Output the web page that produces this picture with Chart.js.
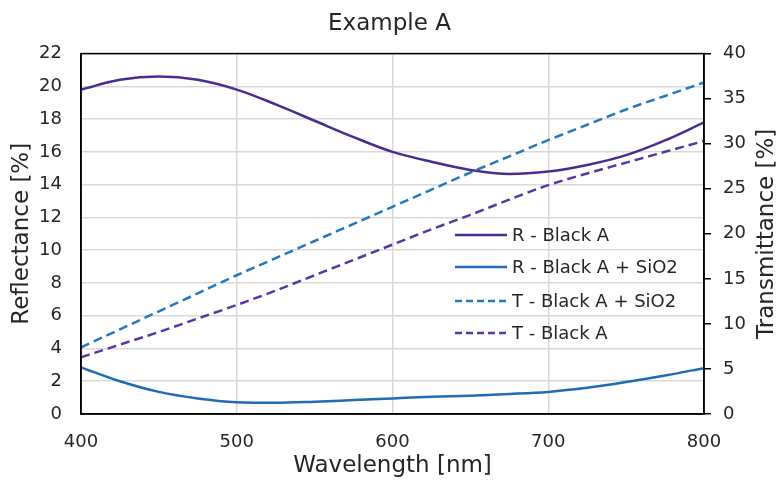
<!DOCTYPE html>
<html>
<head>
<meta charset="utf-8">
<title>Example A</title>
<script src="https://cdn.jsdelivr.net/npm/chart.js@4.4.1/dist/chart.umd.min.js"></script>
<style>
  html, body { margin: 0; padding: 0; background: #fff; }
</style>
</head>
<body>
<canvas id="myChart" width="779" height="486"></canvas>
<script>
// --- Daten ---
const wavelength = [400, 425, 450, 475, 500, 525, 550, 575, 600, 625, 650, 675, 700, 725, 750, 775, 800];

// Reflexion, linke Achse [%]
const rBlackA      = [19.8, 20.4, 20.6, 20.4, 19.8, 18.9, 17.9, 16.9, 16.0, 15.4, 14.9, 14.65, 14.8, 15.2, 15.8, 16.7, 17.8];
const rBlackASiO2  = [2.85, 2.0, 1.35, 0.95, 0.72, 0.68, 0.75, 0.85, 0.95, 1.05, 1.12, 1.22, 1.35, 1.6, 1.95, 2.35, 2.8];

// Transmission, rechte Achse [%]
const tBlackASiO2  = [7.4, 9.4, 11.4, 13.4, 15.4, 17.3, 19.2, 21.1, 23.0, 24.9, 26.8, 28.6, 30.4, 32.1, 33.8, 35.3, 36.8];
const tBlackA      = [6.3, 7.7, 9.1, 10.6, 12.1, 13.7, 15.4, 17.1, 18.8, 20.5, 22.1, 23.8, 25.4, 26.7, 27.9, 29.1, 30.3];

// Achsenbeschriftungen
const xTicks     = [400, 500, 600, 700, 800];
const leftTicks  = [0, 2, 4, 6, 8, 10, 12, 14, 16, 18, 20, 22];
const rightTicks = [0, 5, 10, 15, 20, 25, 30, 35, 40];

const FONT = '"DejaVu Sans", Verdana, sans-serif';
const TXT = '#262626';

function pts(ys) {
    return wavelength.map((x, i) => ({ x: x, y: ys[i] }));
}

function setTicks(list) {
    return function(scale) {
        scale.ticks = list.map(v => ({ value: v }));
    };
}

// Rahmen um die Plotfläche
const framePlugin = {
    id: 'frame',
    afterDatasetsDraw(chart) {
        const a = chart.chartArea;
        const ctx = chart.ctx;
        ctx.save();
        ctx.strokeStyle = '#000';
        ctx.lineWidth = 1.5;
        ctx.strokeRect(a.left, a.top, a.right - a.left, a.bottom - a.top);
        ctx.restore();
    }
};

// rechte Achsenbeschriftung, von unten nach oben gelesen (wie links)
const rightTitlePlugin = {
    id: 'rightTitle',
    afterDraw(chart) {
        const a = chart.chartArea;
        const ctx = chart.ctx;
        ctx.save();
        ctx.translate(767, (a.top + a.bottom) / 2);
        ctx.rotate(-Math.PI / 2);
        ctx.font = '23px ' + FONT;
        ctx.fillStyle = TXT;
        ctx.textAlign = 'center';
        ctx.textBaseline = 'middle';
        ctx.fillText('Transmittance [%]', 0, 0);
        ctx.restore();
    }
};

// Legende innerhalb der Plotfläche
const legendPlugin = {
    id: 'innerLegend',
    afterDraw(chart) {
        const ctx = chart.ctx;
        const x0 = 455, x1 = 507, tx = 512;
        const rows = [235, 267, 301, 333];
        ctx.save();
        ctx.font = '18px ' + FONT;
        ctx.textBaseline = 'middle';
        ctx.textAlign = 'left';
        chart.data.datasets.forEach((ds, i) => {
            const y = rows[i];
            ctx.strokeStyle = ds.borderColor;
            ctx.lineWidth = ds.borderWidth;
            ctx.setLineDash(ds.borderDash ? [7, 4] : []);
            ctx.beginPath();
            ctx.moveTo(x0, y);
            ctx.lineTo(x1, y);
            ctx.stroke();
            ctx.setLineDash([]);
            ctx.fillStyle = TXT;
            ctx.fillText(ds.label, tx, y + 1);
        });
        ctx.restore();
    }
};

const ctx = document.getElementById('myChart').getContext('2d');

new Chart(ctx, {
    type: 'line',
    data: {
        datasets: [
            {
                label: 'R - Black A',
                data: pts(rBlackA),
                yAxisID: 'y',
                borderColor: '#4a2c8f',
                borderWidth: 2.5
            },
            {
                label: 'R - Black A + SiO2',
                data: pts(rBlackASiO2),
                yAxisID: 'y',
                borderColor: '#1f6cb4',
                borderWidth: 2.5
            },
            {
                label: 'T - Black A + SiO2',
                data: pts(tBlackASiO2),
                yAxisID: 'y2',
                borderColor: '#2478bd',
                borderWidth: 2.5,
                borderDash: [9, 5]
            },
            {
                label: 'T - Black A',
                data: pts(tBlackA),
                yAxisID: 'y2',
                borderColor: '#5a36a0',
                borderWidth: 2.5,
                borderDash: [9, 5]
            }
        ]
    },
    options: {
        responsive: false,
        animation: false,
        layout: { padding: 0 },
        elements: {
            point: { radius: 0 },
            line: { cubicInterpolationMode: 'monotone', fill: false }
        },
        plugins: {
            legend: { display: false },
            tooltip: { enabled: false },
            title: {
                display: true,
                text: 'Example A',
                color: TXT,
                font: { family: FONT, size: 23, weight: 'normal' },
                padding: { top: 10, bottom: 16 }
            }
        },
        scales: {
            x: {
                type: 'linear',
                min: 400,
                max: 800,
                afterBuildTicks: setTicks(xTicks),
                afterFit: function(s) { s.height = 72; },
                grid: { color: '#d9d9d9', lineWidth: 1.5, drawTicks: false },
                border: { color: '#000', width: 1.5 },
                ticks: { color: TXT, font: { family: FONT, size: 18 }, padding: 18 },
                title: {
                    display: true,
                    text: 'Wavelength [nm]',
                    color: TXT,
                    font: { family: FONT, size: 23 },
                    padding: { top: 0, bottom: 6 }
                }
            },
            y: {
                position: 'left',
                min: 0,
                max: 22,
                afterBuildTicks: setTicks(leftTicks),
                afterFit: function(s) { s.width = 81; },
                grid: { color: '#d9d9d9', lineWidth: 1.5, drawTicks: false },
                border: { color: '#000', width: 1.5 },
                ticks: { color: TXT, font: { family: FONT, size: 18 }, padding: 19 },
                title: {
                    display: true,
                    text: 'Reflectance [%]',
                    color: TXT,
                    font: { family: FONT, size: 23 },
                    padding: { top: 8, bottom: 0 }
                }
            },
            y2: {
                position: 'right',
                min: 0,
                max: 40,
                afterBuildTicks: setTicks(rightTicks),
                afterFit: function(s) { s.width = 75; },
                grid: { drawOnChartArea: false, color: '#000', lineWidth: 1.5, tickLength: 7 },
                border: { color: '#000', width: 1.5 },
                ticks: { color: TXT, font: { family: FONT, size: 18 }, padding: 12 },
                title: { display: false }
            }
        }
    },
    plugins: [framePlugin, rightTitlePlugin, legendPlugin]
});
</script>
</body>
</html>
